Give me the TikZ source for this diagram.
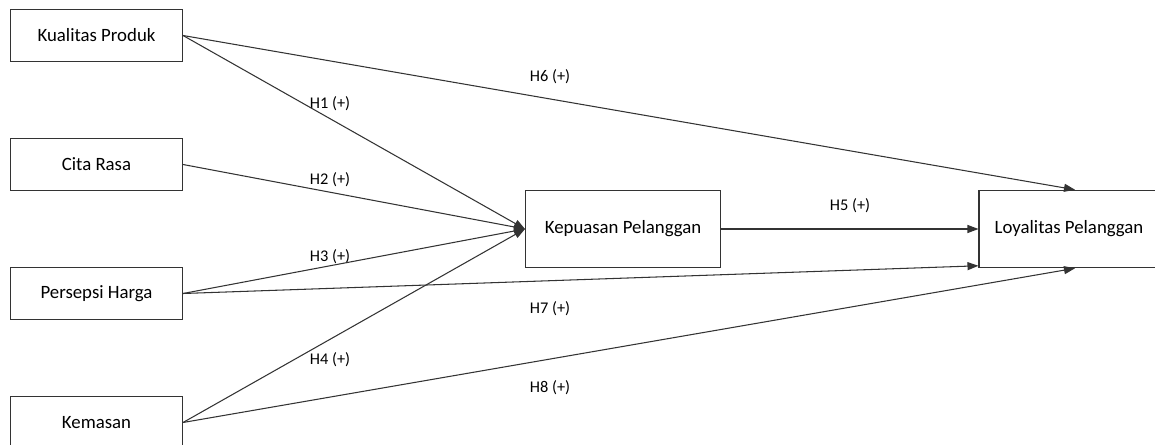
\documentclass[tikz,border=0pt]{standalone}
\usepackage{fontspec}
\setmainfont{Carlito}
\usepackage{tikz}
\usetikzlibrary{arrows.meta, positioning, calc}

\begin{document}
\begin{tikzpicture}[
      node distance=2.58cm,
      block/.style={rectangle, draw=black!80, line width=0.6pt, minimum width=3.44cm, minimum height=1.03cm, text centered, font=\fontsize{10.7}{13}\selectfont},
      bigblock/.style={block, minimum width=3.9cm, minimum height=1.55cm},
      hyp/.style={font=\fontsize{9.3}{11}\selectfont, inner sep=1pt},
      arrow/.style={-{Triangle[length=0.22cm, width=0.16cm]}, draw=black!80, line width=0.6pt}
  ]
      \useasboundingbox (0,0) rectangle (23.1,-8.9);

      % Input nodes
      \node[block] at (1.93,-0.71) (KP) {Kualitas Produk};
      \node[block, below of=KP] (CR) {Cita Rasa};
      \node[block, below of=CR] (PH) {Persepsi Harga};
      \node[block, below of=PH] (KM) {Kemasan};

      % Mediator and outcome
      \node[bigblock, right of=CR, xshift=7.95cm, yshift=-1.29cm] (KPL) {Kepuasan Pelanggan};
      \node[bigblock, minimum width=3.6cm, right of=KPL, xshift=6.34cm] (LP) {Loyalitas Pelanggan};

      % Hypothesis labels
      \node[hyp] at (6.6,-2.08) (H1) {H1 (+)};
      \node[hyp] at (6.6,-3.6) (H2) {H2 (+)};
      \node[hyp] at (6.6,-5.14) (H3) {H3 (+)};
      \node[hyp] at (6.6,-7.2) (H4) {H4 (+)};
      \node[hyp] at (17.0,-4.12) (H5) {H5 (+)};
      \node[hyp] at (11.0,-1.54) (H6) {H6 (+)};
      \node[hyp] at (11.0,-6.18) (H7) {H7 (+)};
      \node[hyp] at (11.0,-7.76) (H8) {H8 (+)};

      % Arrows
      \draw[arrow] (KP.east) -- (KPL.west);
      \draw[arrow] (CR.east) -- (KPL.west);
      \draw[arrow] (PH.east) -- (KPL.west);
      \draw[arrow] (KM.east) -- (KPL.west);
      \draw[arrow] (KPL) -- (LP);
      \draw[arrow] (KP.east) -- ([xshift=0.12cm]LP.north);
      \draw[arrow] (PH.east) -- ([yshift=0.05cm]LP.south west);
      \draw[arrow] (KM.east) -- ([xshift=0.12cm]LP.south);
  \end{tikzpicture}
\end{document}
